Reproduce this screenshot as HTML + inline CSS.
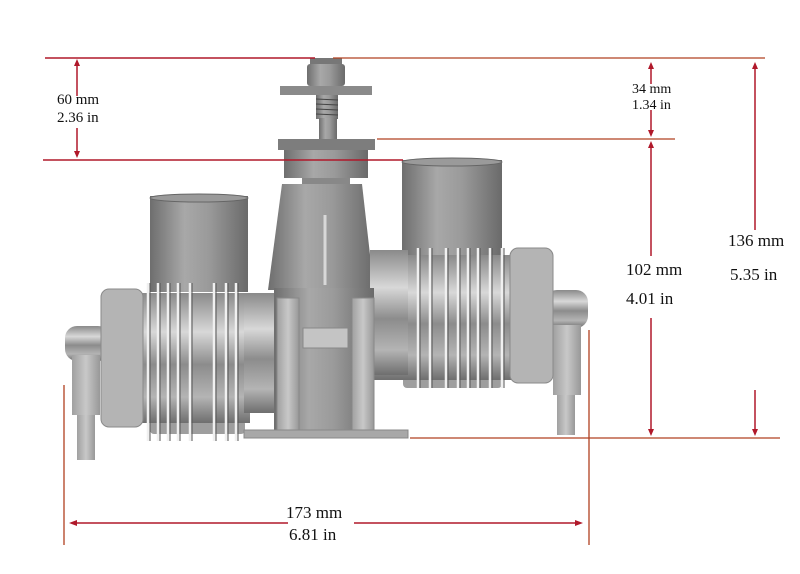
<!DOCTYPE html>
<html><head><meta charset="utf-8"><style>
html,body{margin:0;padding:0;background:#fff;}
svg{display:block;}
text{font-family:"Liberation Serif",serif;fill:#111;}
</style></head><body>
<svg width="800" height="574" viewBox="0 0 800 574" xmlns="http://www.w3.org/2000/svg">
<defs>
<linearGradient id="cy" x1="0" x2="1" y1="0" y2="0">
<stop offset="0" stop-color="#6e6e6e"/><stop offset="0.35" stop-color="#a8a8a8"/><stop offset="0.6" stop-color="#9a9a9a"/><stop offset="1" stop-color="#6a6a6a"/></linearGradient>
<linearGradient id="cv" x1="0" x2="0" y1="0" y2="1">
<stop offset="0" stop-color="#8a8a8a"/><stop offset="0.3" stop-color="#d8d8d8"/><stop offset="0.55" stop-color="#8c8c8c"/><stop offset="0.8" stop-color="#b4b4b4"/><stop offset="1" stop-color="#6e6e6e"/></linearGradient>
<linearGradient id="lt" x1="0" x2="1" y1="0" y2="0">
<stop offset="0" stop-color="#a0a0a0"/><stop offset="0.5" stop-color="#c8c8c8"/><stop offset="1" stop-color="#989898"/></linearGradient>
</defs>

<!-- Top stack -->
<rect x="310" y="58" width="32" height="8" fill="#777"/>
<rect x="307" y="64" width="38" height="22" rx="3" fill="url(#cy)"/>
<rect x="280" y="86" width="92" height="9" fill="#8a8a8a"/>
<rect x="316" y="95" width="22" height="24" fill="url(#cy)"/>
<g stroke="#444" stroke-width="1"><line x1="316" y1="99" x2="338" y2="100"/><line x1="316" y1="104" x2="338" y2="105"/><line x1="316" y1="109" x2="338" y2="110"/><line x1="316" y1="114" x2="338" y2="115"/></g>
<rect x="319" y="118" width="18" height="21" fill="url(#cy)"/>
<rect x="278" y="139" width="97" height="11" fill="#7d7d7d"/>
<rect x="284" y="150" width="84" height="28" fill="url(#cy)"/>
<rect x="302" y="178" width="48" height="6" fill="#888"/>
<polygon points="282,184 362,184 374,290 268,290" fill="url(#cy)"/>
<line x1="325" y1="215" x2="325" y2="285" stroke="#d8d8d8" stroke-width="3"/>

<!-- Intake tubes -->
<rect x="150" y="196" width="98" height="96" fill="url(#cy)"/>
<ellipse cx="199" cy="198" rx="49" ry="4" fill="#9a9a9a" stroke="#666"/>
<rect x="402" y="160" width="100" height="95" fill="url(#cy)"/>
<ellipse cx="452" cy="162" rx="50" ry="4" fill="#9a9a9a" stroke="#666"/>

<!-- Left exhaust -->
<rect x="65" y="326" width="45" height="35" rx="12" fill="url(#cv)"/>
<rect x="72" y="355" width="28" height="60" fill="url(#lt)"/>
<rect x="77" y="415" width="18" height="45" fill="url(#lt)"/>
<!-- Right exhaust -->
<rect x="545" y="290" width="43" height="38" rx="12" fill="url(#cv)"/>
<rect x="553" y="325" width="28" height="70" fill="url(#lt)"/>
<rect x="557" y="395" width="18" height="40" fill="url(#lt)"/>

<!-- Left block -->
<rect x="150" y="420" width="95" height="14" rx="4" fill="#9e9e9e"/>
<rect x="140" y="293" width="110" height="130" fill="url(#cv)"/>
<g stroke="#f0f0f0" stroke-width="2.5">
<line x1="148" y1="283" x2="148" y2="441"/><line x1="158" y1="283" x2="158" y2="441"/><line x1="168" y1="283" x2="168" y2="441"/><line x1="178" y1="283" x2="178" y2="441"/><line x1="190" y1="283" x2="190" y2="441"/><line x1="214" y1="283" x2="214" y2="441"/><line x1="226" y1="283" x2="226" y2="441"/><line x1="236" y1="283" x2="236" y2="441"/>
</g>
<g stroke="#555" stroke-width="1">
<line x1="150" y1="283" x2="150" y2="441"/><line x1="160" y1="283" x2="160" y2="441"/><line x1="170" y1="283" x2="170" y2="441"/><line x1="180" y1="283" x2="180" y2="441"/><line x1="192" y1="283" x2="192" y2="441"/><line x1="216" y1="283" x2="216" y2="441"/><line x1="228" y1="283" x2="228" y2="441"/><line x1="238" y1="283" x2="238" y2="441"/>
</g>
<rect x="101" y="289" width="42" height="138" rx="8" fill="#b4b4b4" stroke="#8a8a8a"/>
<rect x="244" y="293" width="30" height="120" fill="url(#cv)"/>

<!-- Right block -->
<rect x="403" y="362" width="99" height="26" rx="4" fill="#9e9e9e"/>
<rect x="370" y="255" width="145" height="125" fill="url(#cv)"/>
<g stroke="#f0f0f0" stroke-width="2.5">
<line x1="418" y1="248" x2="418" y2="388"/><line x1="430" y1="248" x2="430" y2="388"/><line x1="446" y1="248" x2="446" y2="388"/><line x1="458" y1="248" x2="458" y2="388"/><line x1="468" y1="248" x2="468" y2="388"/><line x1="478" y1="248" x2="478" y2="388"/><line x1="490" y1="248" x2="490" y2="388"/><line x1="502" y1="248" x2="502" y2="388"/>
</g>
<g stroke="#555" stroke-width="1">
<line x1="420" y1="248" x2="420" y2="388"/><line x1="432" y1="248" x2="432" y2="388"/><line x1="448" y1="248" x2="448" y2="388"/><line x1="460" y1="248" x2="460" y2="388"/><line x1="470" y1="248" x2="470" y2="388"/><line x1="480" y1="248" x2="480" y2="388"/><line x1="492" y1="248" x2="492" y2="388"/><line x1="504" y1="248" x2="504" y2="388"/>
</g>
<rect x="370" y="250" width="38" height="125" fill="url(#cv)"/>
<rect x="510" y="248" width="43" height="135" rx="8" fill="#b4b4b4" stroke="#8a8a8a"/>

<!-- Center crankcase -->
<rect x="274" y="288" width="100" height="150" fill="url(#cy)"/>
<rect x="277" y="298" width="22" height="132" fill="url(#lt)" stroke="#888"/>
<rect x="352" y="298" width="22" height="132" fill="url(#lt)" stroke="#888"/>
<rect x="303" y="328" width="45" height="20" fill="#c4c4c4" stroke="#888"/>
<rect x="244" y="430" width="164" height="8" fill="#a8a8a8" stroke="#888"/>

<!-- Dimension lines -->
<g stroke="#b0182a" stroke-width="1.5" fill="none">
<line x1="45" y1="58" x2="315" y2="58"/>
<line x1="43" y1="160" x2="403" y2="160"/>
<line x1="77" y1="64" x2="77" y2="96"/>
<line x1="77" y1="128" x2="77" y2="154"/>
<line x1="651" y1="66" x2="651" y2="84"/>
<line x1="651" y1="110" x2="651" y2="134"/>
<line x1="651" y1="146" x2="651" y2="256"/>
<line x1="651" y1="318" x2="651" y2="430"/>
<line x1="755" y1="66" x2="755" y2="230"/>
<line x1="755" y1="390" x2="755" y2="430"/>
<line x1="76" y1="523" x2="288" y2="523"/>
<line x1="354" y1="523" x2="577" y2="523"/>
</g>
<g stroke="#b04020" stroke-width="1.3">
<line x1="333" y1="58" x2="765" y2="58"/>
<line x1="377" y1="139" x2="675" y2="139"/>
<line x1="410" y1="438" x2="780" y2="438"/>
<line x1="64" y1="385" x2="64" y2="545"/>
<line x1="589" y1="330" x2="589" y2="545"/>
</g>
<g fill="#b0182a">
<polygon points="77,59 74,66 80,66"/><polygon points="77,158 74,151 80,151"/>
<polygon points="651,62 648,69 654,69"/><polygon points="651,137 648,130 654,130"/>
<polygon points="651,141 648,148 654,148"/><polygon points="651,436 648,429 654,429"/>
<polygon points="755,62 752,69 758,69"/><polygon points="755,436 752,429 758,429"/>
<polygon points="69,523 77,520 77,526"/><polygon points="583,523 575,520 575,526"/>
</g>

<text x="57" y="104" font-size="15">60 mm</text>
<text x="57" y="122" font-size="15">2.36 in</text>
<text x="632" y="93" font-size="14">34 mm</text>
<text x="632" y="109" font-size="14">1.34 in</text>
<text x="626" y="275" font-size="17">102 mm</text>
<text x="626" y="304" font-size="17">4.01 in</text>
<text x="728" y="246" font-size="17">136 mm</text>
<text x="730" y="280" font-size="17">5.35 in</text>
<text x="286" y="518" font-size="17">173 mm</text>
<text x="289" y="540" font-size="17">6.81 in</text>
</svg>
</body></html>
